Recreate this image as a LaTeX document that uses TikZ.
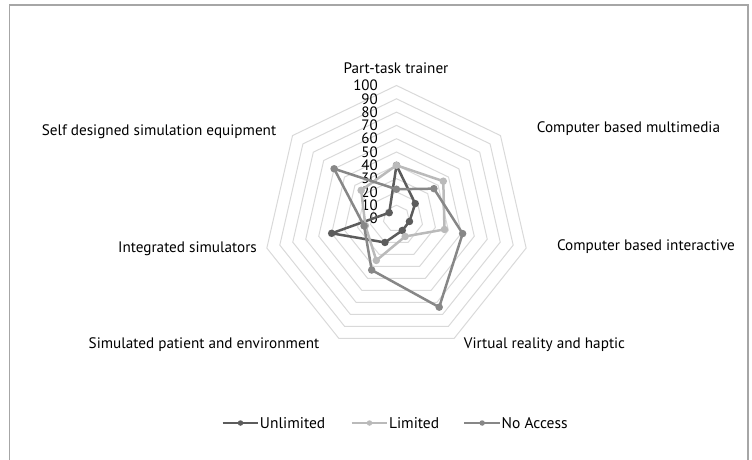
\documentclass[tikz,border=0pt]{standalone}
\usepackage{fontspec}
\setmainfont{PT Sans}
\definecolor{unlim}{HTML}{5C5C5C}
\definecolor{limc}{HTML}{BABABA}
\definecolor{noacc}{HTML}{878787}
\definecolor{gridgray}{HTML}{D9D9D9}
\definecolor{framegray}{HTML}{A6A6A6}

\begin{document}
\begin{tikzpicture}[x=1.33pt, y=1.33pt,
  ring/.style={draw=gridgray, line width=1pt},
  series/.style={line width=2.5pt, line join=round},
  dot/.style={circle, fill, inner sep=0pt, minimum size=7.5pt},
  legline/.style={line width=2.5pt},
  legdot/.style={circle, fill, inner sep=0pt, minimum size=5.5pt},
  catlabel/.style={font=\fontsize{15.2}{17}\selectfont},
  ticklabel/.style={font=\fontsize{15}{15}\selectfont, anchor=east, inner sep=0pt},
  legtext/.style={font=\fontsize{15.5}{17}\selectfont, anchor=west, inner sep=1.5pt}]

  \useasboundingbox (-396.5pt,-240.5pt) rectangle (355.5pt,218.5pt);
  \draw[framegray, line width=1.2pt]
    (-387pt,-245pt) -- (-387pt,213.5pt) -- (351.5pt,213.5pt) -- (351.5pt,-245pt);

  % grid rings
  \foreach \r in {10,20,...,100}
    \draw[ring] (90:\r) \foreach \k in {1,...,6} { -- (90-\k*360/7:\r) } -- cycle;

  % value axis
  \foreach \v in {0,10,...,100}
    \node[ticklabel] (t\v) at (-13.9,\v) {\v};

  % categories
  \node[catlabel] (ptt) at (-0.5pt,150.5pt) {Part-task trainer};
  \node[catlabel] (cbm) at (232pt,89.5pt) {Computer based multimedia};
  \node[catlabel] (cbi) at (249.5pt,-28.5pt) {Computer based interactive};
  \node[catlabel] (vrh) at (148pt,-126.5pt) {Virtual reality and haptic};
  \node[catlabel] (spe) at (-192.5pt,-126.5pt) {Simulated patient and environment};
  \node[catlabel] (ins) at (-209pt,-30.5pt) {Integrated simulators};
  \node[catlabel] (sds) at (-237.5pt,86.5pt) {Self designed simulation equipment};

  % Unlimited
  \foreach \a/\v [count=\i] in {90/40, 38.571/18, -12.857/10, -64.286/10, -115.714/20, -167.143/50, 141.429/7}
    \coordinate (u\i) at (\a:\v);
  \draw[series, unlim] (u1) -- (u2) -- (u3) -- (u4) -- (u5) -- (u6) -- (u7) -- cycle;
  \foreach \i in {1,...,7}
    \node[dot, unlim] (du\i) at (u\i) {};

  % Limited
  \foreach \a/\v [count=\i] in {90/40, 38.571/45, -12.857/37, -64.286/15, -115.714/35, -167.143/24, 141.429/34}
    \coordinate (l\i) at (\a:\v);
  \draw[series, limc] (l1) -- (l2) -- (l3) -- (l4) -- (l5) -- (l6) -- (l7) -- cycle;
  \foreach \i in {1,...,7}
    \node[dot, limc] (dl\i) at (l\i) {};

  % No Access
  \foreach \a/\v [count=\i] in {90/22, 38.571/36, -12.857/51, -64.286/74, -115.714/43, -167.143/25, 141.429/60}
    \coordinate (n\i) at (\a:\v);
  \draw[series, noacc] (n1) -- (n2) -- (n3) -- (n4) -- (n5) -- (n6) -- (n7) -- cycle;
  \foreach \i in {1,...,7}
    \node[dot, noacc] (dn\i) at (n\i) {};

  % legend
  \coordinate (lu1) at (-173.8pt,-204.5pt);
  \coordinate (lu2) at (-138.2pt,-204.5pt);
  \draw[legline, unlim] (lu1) -- node[legdot] (ldu) {} (lu2);
  \node[legtext] (lgu) at (lu2) {Unlimited};

  \coordinate (ll1) at (-44.8pt,-204.5pt);
  \coordinate (ll2) at (-9.2pt,-204.5pt);
  \draw[legline, limc] (ll1) -- node[legdot] (ldl) {} (ll2);
  \node[legtext] (lgl) at (ll2) {Limited};

  \coordinate (ln1) at (67.8pt,-204.5pt);
  \coordinate (ln2) at (103.5pt,-204.5pt);
  \draw[legline, noacc] (ln1) -- node[legdot] (ldn) {} (ln2);
  \node[legtext] (lgn) at (ln2) {No Access};
\end{tikzpicture}
\end{document}
